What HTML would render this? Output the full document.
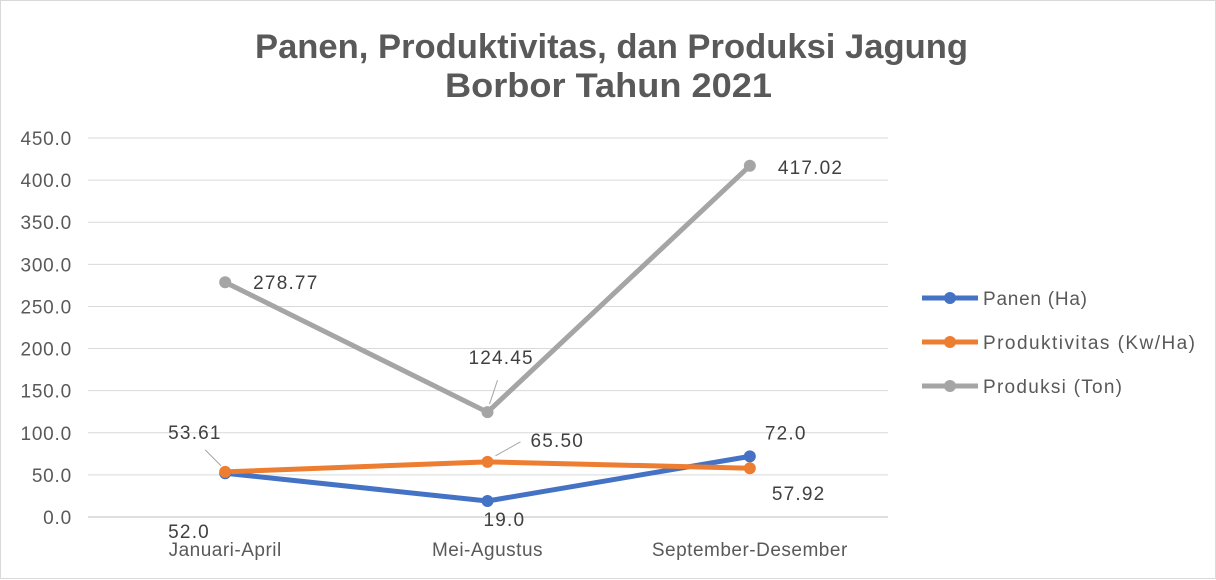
<!DOCTYPE html>
<html><head><meta charset="utf-8"><style>
body{margin:0;background:#fff;}
svg{display:block;font-family:"Liberation Sans",sans-serif;}
</style></head><body>
<svg width="1216" height="580" viewBox="0 0 1216 580">
<rect x="0.5" y="0.5" width="1215" height="578" fill="#fff" stroke="#d9d9d9"/>
<text x="255" y="58" textLength="713" lengthAdjust="spacingAndGlyphs" font-size="34" font-weight="bold" fill="#595959">Panen, Produktivitas, dan Produksi Jagung</text>
<text x="445" y="97" textLength="327" lengthAdjust="spacingAndGlyphs" font-size="34" font-weight="bold" fill="#595959">Borbor Tahun 2021</text>
<g id="grid"></g><g id="plot"></g><g id="legend"></g>
</svg>
<script>
const categories=["Januari-April","Mei-Agustus","September-Desember"];
const yTicks=[0,50,100,150,200,250,300,350,400,450];
const panen=[52.0,19.0,72.0];
const produktivitas=[53.61,65.50,57.92];
const produksi=[278.77,124.45,417.02];
const panenLabels=["52.0","19.0","72.0"];
const prodLabels=["53.61","65.50","57.92"];
const produksiLabels=["278.77","124.45","417.02"];
const NS="http://www.w3.org/2000/svg";
function mk(t,a,p,txt){const e=document.createElementNS(NS,t);for(const k in a)e.setAttribute(k,a[k]);if(txt!==undefined)e.textContent=txt;p.appendChild(e);return e;}
const x0=94,x1=881,yB=517,yT=138;
function xs(i){return x0+(x1-x0)*(i+0.5)/categories.length;}
function ys(v){return yB-(yB-yT)*v/450;}
const g=document.getElementById('grid'),p=document.getElementById('plot'),lg=document.getElementById('legend');
yTicks.forEach(v=>{
 const l=mk('line',{x1:88,x2:888,y1:ys(v),y2:ys(v),stroke:v===0?'#bfbfbf':'#d9d9d9','stroke-width':1},g);
 
 const t=mk('text',{x:72,y:ys(v)+7,'text-anchor':'end','font-size':19,'letter-spacing':0.8,fill:'#595959'},g,v.toFixed(1));
 
});
categories.forEach((c,i)=>{
 const t=mk('text',{x:xs(i),y:556,'text-anchor':'middle','font-size':19,'letter-spacing':0.5,fill:'#595959'},g,c);
 
});
const series=[
 {name:'Panen (Ha)',tl:104,data:panen,labels:panenLabels,color:'#4472c4',off:[[-57,59],[-4,19],[15,-23]]},
 {name:'Produktivitas (Kw/Ha)',tl:212,data:produktivitas,labels:prodLabels,color:'#ed7d31',off:[[-57,-39],[43,-21],[22,26]]},
 {name:'Produksi (Ton)',tl:139,data:produksi,labels:produksiLabels,color:'#a5a5a5',off:[[28,1],[-19,-54],[28,2]]}
];
series.forEach((s,si)=>{
 const pts=s.data.map((v,i)=>xs(i)+','+ys(v)).join(' ');
 const pl=mk('polyline',{points:pts,fill:'none',stroke:s.color,'stroke-width':5,'stroke-linejoin':'round'},p);
 
});
series.forEach((s,si)=>{
 s.data.forEach((v,i)=>{
  const c=mk('circle',{cx:xs(i),cy:ys(v),r:6,fill:s.color},p);
  
  const t=mk('text',{x:xs(i)+s.off[i][0],y:ys(v)+s.off[i][1]+6,'font-size':19,'letter-spacing':1.2,fill:'#404040'},p,s.labels[i]);
  
 });
});
const ll1=mk('line',{x1:xs(0)-20,y1:ys(produktivitas[0])-22,x2:xs(0)-4,y2:ys(produktivitas[0])-6,stroke:'#a6a6a6','stroke-width':1},p);

const ll2=mk('line',{x1:xs(1)+10,y1:ys(124.45)-32,x2:xs(1)+2,y2:ys(124.45)-8,stroke:'#a6a6a6','stroke-width':1},p);

const ll3=mk('line',{x1:xs(1)+33,y1:ys(65.5)-20,x2:xs(1)+8,y2:ys(65.5)-6,stroke:'#a6a6a6','stroke-width':1},p);

series.forEach((s,si)=>{
 const y=298+si*44;
 const l=mk('line',{x1:922,x2:978,y1:y,y2:y,stroke:s.color,'stroke-width':5},lg);
 
 const c=mk('circle',{cx:950,cy:y,r:6,fill:s.color},lg);
 
 const t=mk('text',{x:983,y:y+7,'font-size':19,textLength:s.tl,lengthAdjust:'spacing',fill:'#595959'},lg,s.name);
 
});
</script>
</body></html>
